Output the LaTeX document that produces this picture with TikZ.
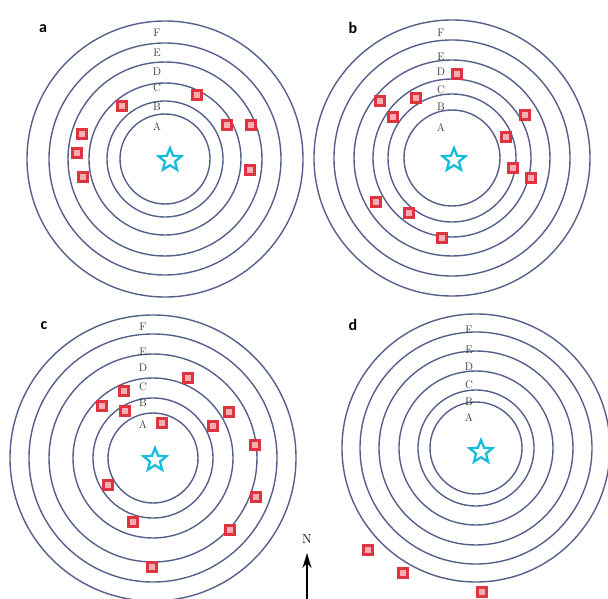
\documentclass[tikz,border=0pt]{standalone}
\usepackage{fontspec}
\newfontfamily\panelfont{Carlito}
\usetikzlibrary{shapes.geometric, arrows.meta}
\definecolor{ringblue}{RGB}{84,96,138}
\definecolor{starcyan}{RGB}{25,188,218}
\definecolor{markred}{RGB}{222,52,64}

\begin{document}
\begin{tikzpicture}[x=1pt, y=-1pt,
    ring/.style={draw=ringblue, line width=1.4pt},
    ringlabel/.style={font=\fontsize{11}{11}\selectfont, text=black!80, inner sep=0pt},
    refstar/.style={star, star points=5, star point ratio=2.3, minimum size=24pt,
      inner sep=0pt, draw=starcyan, line width=2.3pt},
    marker/.style={rectangle, minimum size=9.5pt, inner sep=0pt, draw=markred,
      line width=2.6pt, fill=markred!40},
    panellabel/.style={font=\panelfont\bfseries\fontsize{16}{16}\selectfont, inner sep=0pt}]
  \useasboundingbox (0,0) rectangle (608,599);
  % Panel a
  \begin{scope}[shift={(165,159)}]
    \foreach \r in {45,58,76,97,116,138} \draw[ring] (0,0) circle (\r);
    \foreach \l/\d in {F/126,E/106,D/87,C/71,B/52,A/32}
      \node[ringlabel] (a\l) at (-8,-\d) {\l};
    \node[refstar] (astar) at (5,1) {};
  \end{scope}
  % Panel b
  \begin{scope}[shift={(452,158)}]
    \foreach \r in {48,64,79,98,118,138} \draw[ring] (0,0) circle (\r);
    \foreach \l/\d in {F/125,E/101,D/86,C/68,B/51,A/30}
      \node[ringlabel] (b\l) at (-11,-\d) {\l};
    \node[refstar] (bstar) at (2,2) {};
  \end{scope}
  % Panel c
  \begin{scope}[shift={(153,458)}]
    \foreach \r in {45,60,80,104,124,143} \draw[ring] (0,0) circle (\r);
    \foreach \l/\d in {F/131,E/106,D/90,C/71,B/55,A/33}
      \node[ringlabel] (c\l) at (-10,-\d) {\l};
    \node[refstar] (cstar) at (2,2) {};
  \end{scope}
  % Panel d
  \begin{scope}[shift={(476,448)}]
    \foreach \r in {46,58,77,97,116,134} \draw[ring] (0,0) circle (\r);
    \foreach \l/\d in {F/118,E/98,D/81,C/63,B/46,A/30}
      \node[ringlabel] (d\l) at (-7,-\d) {\l};
    \node[refstar] (dstar) at (5,4) {};
  \end{scope}
  % markers
  \foreach \p [count=\i] in {(122,106),(197,95),(227,125),(251,125),(82,134),(77,153),(83,177),(250,170)}
    \node[marker] (ma\i) at \p {};
  \foreach \p [count=\i] in {(457,74),(380,101),(416,98),(393,117),(525,115),(506,137),(513,168),(531,178),(376,202),(409,213),(442,238)}
    \node[marker] (mb\i) at \p {};
  \foreach \p [count=\i] in {(188,378),(124,391),(102,406),(125,411),(162,423),(229,412),(213,426),(255,445),(108,485),(256,497),(133,522),(230,530),(152,567)}
    \node[marker] (mc\i) at \p {};
  \foreach \p [count=\i] in {(368,550),(403,573),(482,592)}
    \node[marker] (md\i) at \p {};
  % panel letters
  \node[panellabel] (la) at (43,29) {a};
  \node[panellabel] (lb) at (353,28) {b};
  \node[panellabel] (lc) at (44,326) {c};
  \node[panellabel] (ld) at (353,325) {d};
  % north arrow
  \node[font=\fontsize{13}{13}\selectfont, inner sep=0pt] (north) at (307,539) {N};
  \coordinate (nbase) at (307,599);
  \coordinate (ntip) at (307,553);
  \draw[-{Stealth[length=15pt,width=9pt]}, line width=1.6pt] (nbase) -- (ntip);
\end{tikzpicture}
\end{document}
